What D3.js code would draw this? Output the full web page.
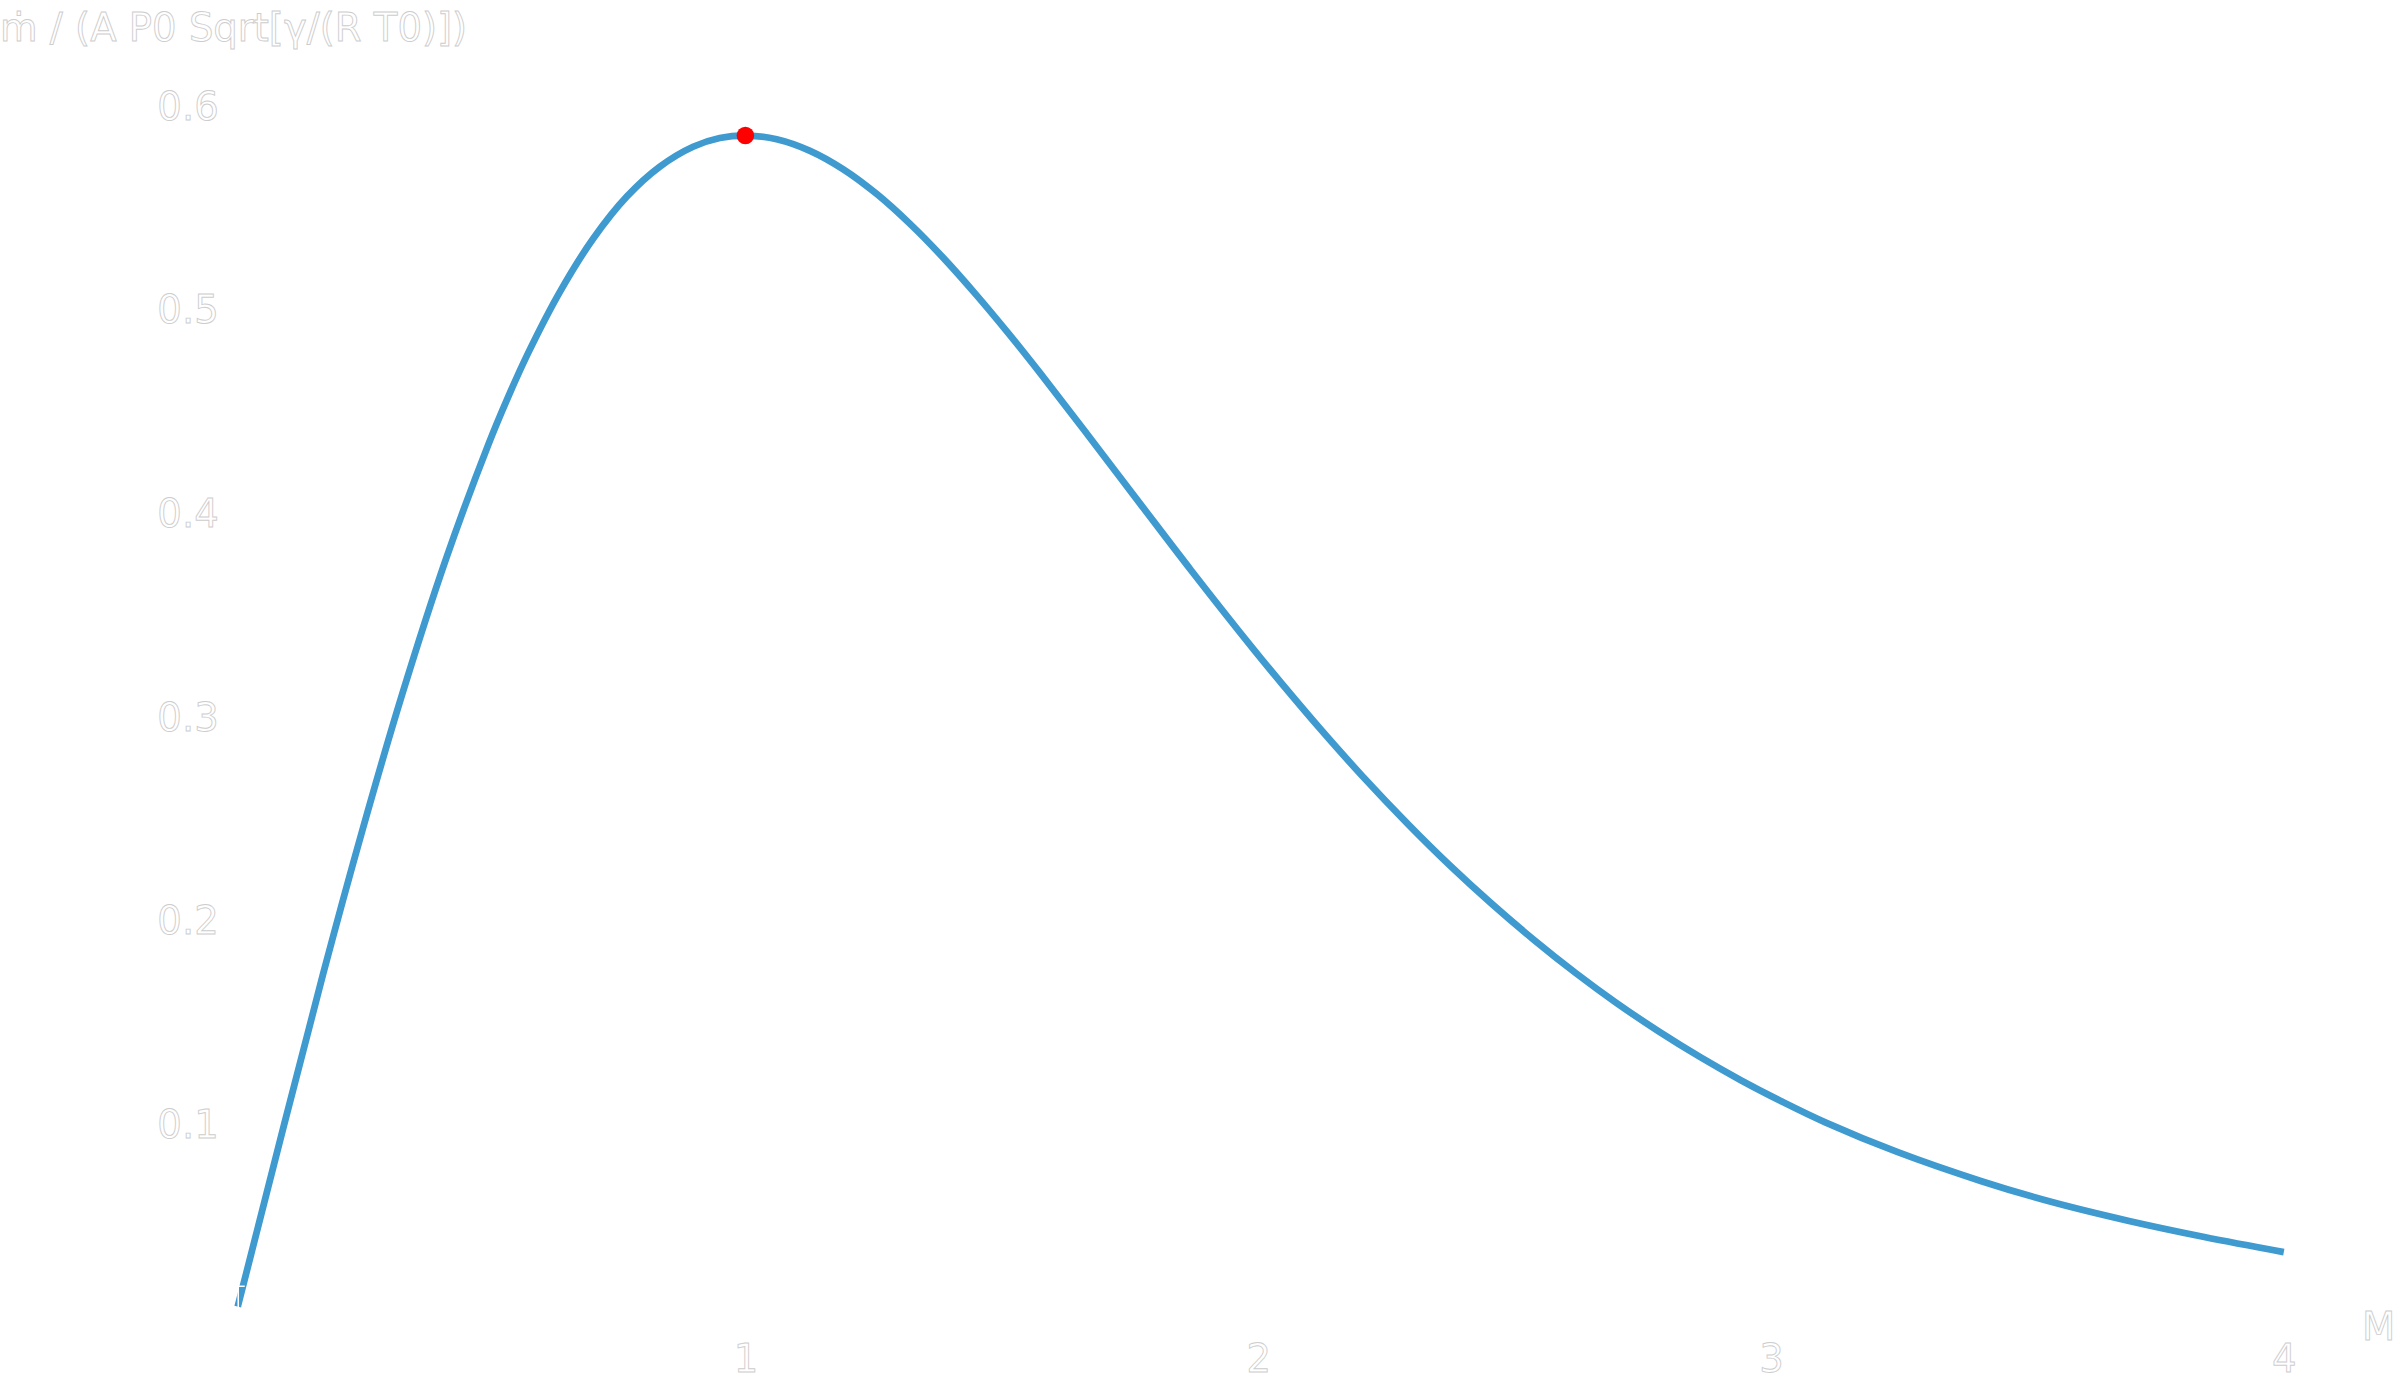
<!DOCTYPE html>
<html>
<head>
<meta charset="utf-8">
<script src="https://cdn.jsdelivr.net/npm/d3@7"></script>
<style>
  html, body { margin: 0; padding: 0; background: #ffffff; }
  svg { display: block; }
  text { font-family: "DejaVu Sans", sans-serif; }
</style>
</head>
<body>
<svg id="chart" width="2400" height="1399"></svg>
<script>
// ---- data ----
const machNumbers = [0.01, 0.176, 0.254, 0.331, 0.415, 0.499, 0.537, 0.576, 0.638, 0.703, 0.769, 0.833, 0.898,
  0.950, 1.003, 1.061, 1.126, 1.191, 1.256, 1.321, 1.386, 1.451, 1.515, 1.576, 1.660, 1.770, 1.869, 1.993, 2.045,
  2.123, 2.202, 2.293, 2.376, 2.454, 2.537, 2.620, 2.698, 2.781, 2.863, 2.942, 3.020, 3.107, 3.246, 3.412, 3.546,
  3.696, 3.845, 4.0];
const massFlowValues = [0.0100, 0.1729, 0.2448, 0.3110, 0.3764, 0.4336, 0.4566, 0.4782, 0.5083, 0.5345, 0.5553, 0.5699, 0.5797,
  0.5840, 0.5852, 0.5834, 0.5777, 0.5686, 0.5565, 0.5418, 0.5251, 0.5067, 0.4874, 0.4681, 0.4407, 0.4043, 0.3717, 0.3322, 0.3163,
  0.2932, 0.2709, 0.2468, 0.2262, 0.2082, 0.1903, 0.1737, 0.1593, 0.1452, 0.1324, 0.1211, 0.1109, 0.1004, 0.0860, 0.0715, 0.0615,
  0.0522, 0.0442, 0.0368];
const peakPoint = [1.0, 0.5852];
const xTickValues = [1, 2, 3, 4];
const xTickLabels = ["1", "2", "3", "4"];
const yTickValues = [0.1, 0.2, 0.3, 0.4, 0.5, 0.6];
const yTickLabels = ["0.1", "0.2", "0.3", "0.4", "0.5", "0.6"];
const yMinorTickValues = [0.02, 0.04, 0.06, 0.08, 0.12, 0.14, 0.16, 0.18, 0.22, 0.24, 0.26, 0.28,
  0.32, 0.34, 0.36, 0.38, 0.42, 0.44, 0.46, 0.48, 0.52, 0.54, 0.56, 0.58];
const xMinorTickValues = [0.2, 0.4, 0.6, 0.8, 1.2, 1.4, 1.6, 1.8, 2.2, 2.4, 2.6, 2.8, 3.2, 3.4, 3.6, 3.8];
const xAxisTitle = "M";
const yAxisTitle = "ṁ / (A P0 Sqrt[γ/(R T0)])";

// ---- layout ----
const svg = d3.select("#chart");
const x = d3.scaleLinear().domain([0, 4]).range([232.6, 2283.8]);
const y = d3.scaleLinear().domain([0, 0.6]).range([1327, 105.4]);
const axisOriginX = x(0.01);

const textStyle = sel => sel
  .attr("font-family", "DejaVu Sans, sans-serif")
  .attr("font-size", 38.6)
  .attr("fill", "#ffffff")
  .attr("stroke", "#cdcdcd")
  .attr("stroke-width", 0.9);

const points = machNumbers.map((m, i) => [m, massFlowValues[i]]);

// curve
svg.append("path")
  .datum(points)
  .attr("fill", "none")
  .attr("stroke", "#3f9ad0")
  .attr("stroke-width", 6.8)
  .attr("stroke-linejoin", "round")
  .attr("d", d3.line().curve(d3.curveCatmullRom.alpha(0.5)).x(d => x(d[0])).y(d => y(d[1])));

// peak marker
svg.append("circle")
  .attr("cx", x(peakPoint[0]))
  .attr("cy", y(peakPoint[1]))
  .attr("r", 8.8)
  .attr("fill", "#ff0000");

// y axis (white lines, inward ticks)
const yAxis = d3.axisLeft(y)
  .tickValues(yTickValues)
  .tickFormat((d, i) => yTickLabels[i])
  .tickSize(-12)
  .tickPadding(19);
const gy = svg.append("g").attr("transform", `translate(${axisOriginX},0)`).call(yAxis);
gy.select(".domain").attr("stroke", "#ffffff").attr("stroke-width", 1.5);
gy.selectAll(".tick line").attr("stroke", "#ffffff").attr("stroke-width", 1.5);
gy.selectAll(".tick text").call(textStyle).attr("dy", "0.36em");
gy.selectAll(".minor").data(yMinorTickValues).enter().append("line")
  .attr("class", "minor")
  .attr("x1", 0).attr("x2", 7)
  .attr("y1", d => y(d)).attr("y2", d => y(d))
  .attr("stroke", "#ffffff").attr("stroke-width", 1.5);

// x axis
const xAxis = d3.axisBottom(x)
  .tickValues(xTickValues)
  .tickFormat((d, i) => xTickLabels[i])
  .tickSize(-12)
  .tickPadding(18);
const gx = svg.append("g").attr("transform", `translate(0,${y(0)})`).call(xAxis);
gx.select(".domain").attr("stroke", "#ffffff").attr("stroke-width", 1.5);
gx.selectAll(".tick line").attr("stroke", "#ffffff").attr("stroke-width", 1.5);
gx.selectAll(".tick text").call(textStyle).attr("dy", "0.71em");
gx.selectAll(".minor").data(xMinorTickValues).enter().append("line")
  .attr("class", "minor")
  .attr("x1", d => x(d)).attr("x2", d => x(d))
  .attr("y1", 0).attr("y2", -7)
  .attr("stroke", "#ffffff").attr("stroke-width", 1.5);

// axis titles
svg.append("text")
  .attr("x", 2362).attr("y", y(0) + 13)
  .text(xAxisTitle).call(textStyle);
svg.append("text")
  .attr("x", 0).attr("y", 41)
  .text(yAxisTitle).call(textStyle);
</script>
</body>
</html>
